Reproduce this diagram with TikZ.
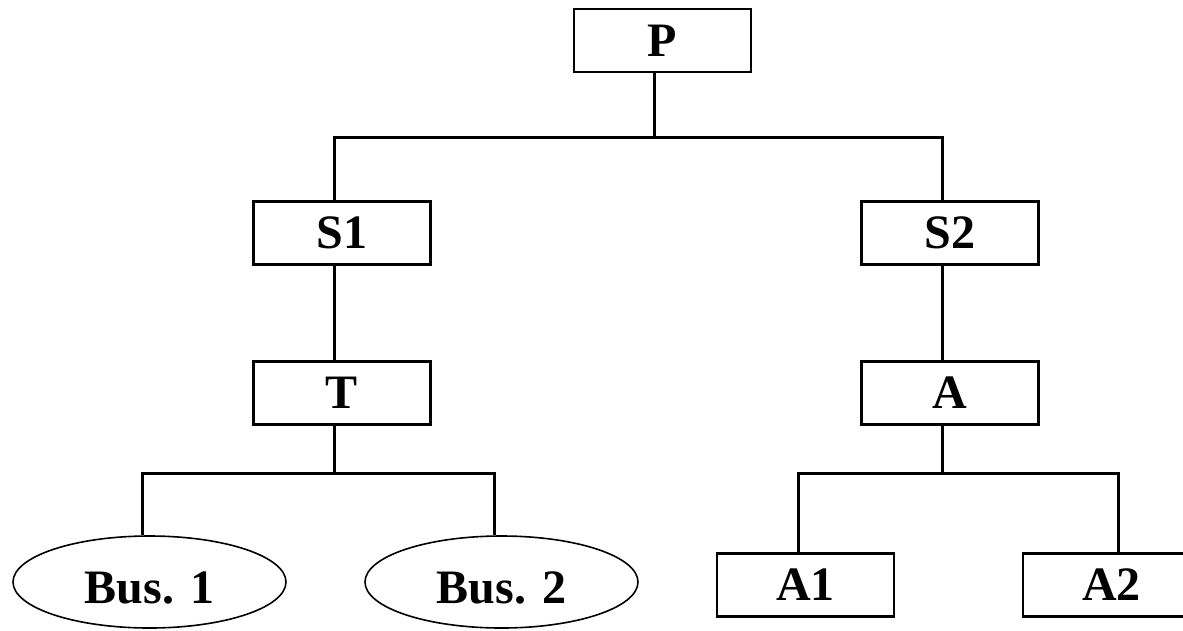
\documentclass[tikz,border=0pt]{standalone}
\usepackage{fontspec}
\setmainfont{Liberation Serif}
\usetikzlibrary{shapes.geometric}
\begin{document}
\begin{tikzpicture}[x=1pt,y=-1pt,
  box/.style={draw,line width=2.5pt,rectangle,minimum width=177pt,minimum height=63pt,inner sep=0pt,
    font=\fontsize{48}{50}\selectfont\bfseries},
  oval/.style={draw,line width=1.6pt,ellipse,minimum width=273pt,minimum height=92pt,inner sep=0pt,
    text height=42pt,text depth=0pt,
    font=\fontsize{48}{50}\selectfont\bfseries},
  conn/.style={line width=3pt}]
\useasboundingbox (0,0) rectangle (1183,630);
\node[box] (P)  at (662.5,40.5) {P};
\node[box] (S1) at (342,233) {S1};
\node[box] (S2) at (950,233) {S2};
\node[box] (T)  at (342,393) {T};
\node[box] (A)  at (950,393) {A};
\node[oval] (B1) at (149.5,582) {Bus. 1};
\node[oval] (B2) at (501.5,582) {Bus. 2};
\node[box] (A1) at (805.5,585) {A1};
\node[box] (A2) at (1111.5,585) {A2};
\coordinate (j0) at (654,137);
\coordinate (j1) at (334,473);
\coordinate (j2) at (942,473);
\draw[conn] ([xshift=-8.5pt]P.south) -- (j0);
\draw[conn] ([xshift=-8pt]S1.north) |- (j0) -| ([xshift=-8pt]S2.north);
\draw[conn] ([xshift=-8pt]S1.south) -- ([xshift=-8pt]T.north);
\draw[conn] ([xshift=-8pt]S2.south) -- ([xshift=-8pt]A.north);
\draw[conn] ([xshift=-8pt]T.south) -- (j1);
\draw[conn] ([xshift=-7.5pt]B1.north) |- (j1) -| ([xshift=-7.5pt]B2.north);
\draw[conn] ([xshift=-8pt]A.south) -- (j2);
\draw[conn] ([xshift=-7.5pt]A1.north) |- (j2) -| ([xshift=6.5pt]A2.north);
\end{tikzpicture}
\end{document}
